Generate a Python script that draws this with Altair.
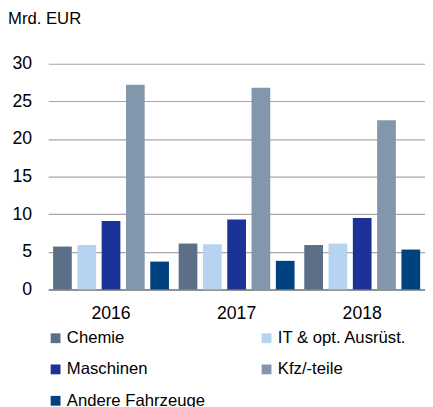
import altair as alt
import pandas as pd

years = ["2016", "2017", "2018"]
sectors = ["Chemie", "IT & opt. Ausrüst.", "Maschinen", "Kfz/-teile", "Andere Fahrzeuge"]
chemie = [5.7, 6.1, 5.9]
it = [5.9, 6.0, 6.1]
maschinen = [9.1, 9.3, 9.5]
kfz = [27.2, 26.8, 22.5]
andere = [3.7, 3.8, 5.3]
colors = ["#5B7086", "#B6D3F0", "#1B3296", "#8297AB", "#00427F"]

series = [chemie, it, maschinen, kfz, andere]
rows = []
for s, vals in zip(sectors, series):
    for y, v in zip(years, vals):
        rows.append({"Jahr": y, "Sektor": s, "Wert": v})
df = pd.DataFrame(rows)

FONT = "Liberation Sans"

chart = alt.Chart(df).mark_bar().encode(
    x=alt.X("Jahr:N", sort=years,
            scale=alt.Scale(paddingInner=0, paddingOuter=0),
            axis=alt.Axis(title=None, labelAngle=0, ticks=False, domain=True,
                          domainColor="#808080", domainWidth=1.5,
                          labelFontSize=18, labelPadding=16, labelColor="#000000")),
    xOffset=alt.XOffset("Sektor:N", sort=sectors,
                        scale=alt.Scale(paddingInner=0.23, paddingOuter=0.2)),
    y=alt.Y("Wert:Q", scale=alt.Scale(domain=[0, 30]),
            axis=alt.Axis(title=None, values=[0, 5, 10, 15, 20, 25, 30], ticks=False,
                          domain=False, grid=True, gridColor="#A6A6A6", gridWidth=1.2,
                          labelFontSize=18, labelPadding=17, labelColor="#000000")),
    color=alt.Color("Sektor:N", sort=sectors,
                    scale=alt.Scale(domain=sectors, range=colors),
                    legend=alt.Legend(title=None, orient="none", legendX=-1, legendY=271,
                                      columns=2, direction="horizontal",
                                      symbolType="square", symbolSize=100,
                                      symbolStrokeWidth=0, labelFontSize=17,
                                      labelColor="#000000", columnPadding=54,
                                      rowPadding=14, labelOffset=3)),
).properties(
    width=384, height=230,
    title=alt.TitleParams("Mrd. EUR", anchor="start", frame="group", fontSize=17,
                          fontWeight="normal", font=FONT, color="#000000",
                          offset=28, dx=-41),
    autosize=alt.AutoSizeParams(type="none"),
    padding={"left": 41, "top": 53, "right": 0, "bottom": 116},
).configure(font=FONT).configure_view(stroke=None)

chart.save("out.html", embed_options={"renderer": "svg", "actions": False})
